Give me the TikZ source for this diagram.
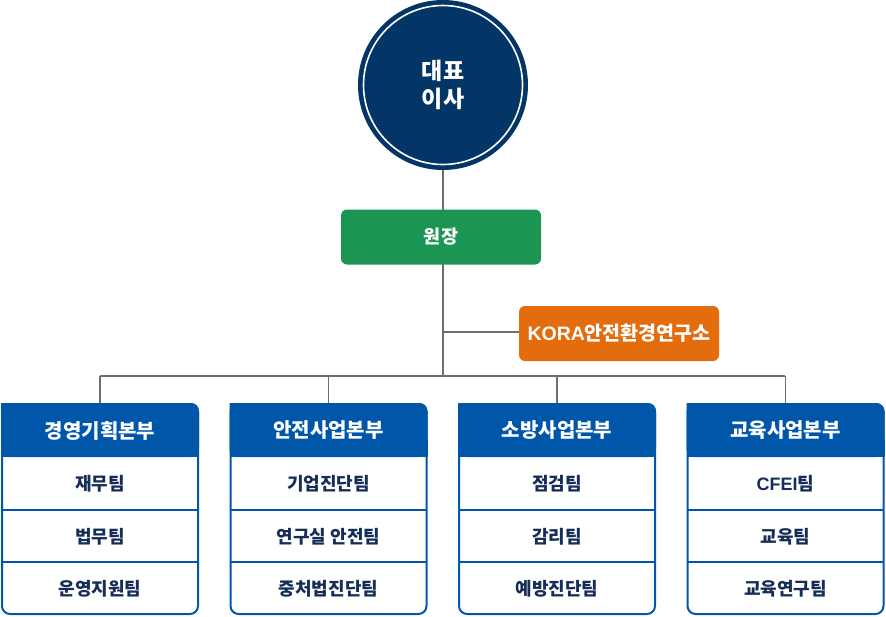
\documentclass[tikz,border=0pt]{standalone}
\usepackage{fontspec}
\newfontfamily\kr{Noto Sans CJK KR}
\newfontfamily\lat{Liberation Sans}
\definecolor{navy}{RGB}{3,53,103}
\definecolor{cgreen}{RGB}{27,150,82}
\definecolor{corange}{RGB}{227,108,12}
\definecolor{cblue}{RGB}{0,87,170}
\definecolor{ctext}{RGB}{22,45,88}
\definecolor{cline}{RGB}{110,110,110}
\tikzset{
  conn/.style={draw=cline, line width=1.1pt},
  topbox/.style={rounded corners=6pt, minimum width=200pt, minimum height=55pt, text=white, inner sep=0pt},
  hdr/.style={text=white, font=\kr\bfseries\fontsize{20}{23}\selectfont, inner sep=0pt},
  row/.style={text=ctext, font=\kr\bfseries\fontsize{18}{21}\selectfont, inner sep=0pt}
}
\begin{document}
\begin{tikzpicture}[x=1pt,y=-1pt]
\useasboundingbox (0,0) rectangle (886,616);
% CEO circle
\node[circle, fill=navy, minimum size=170pt, inner sep=0pt] (ceo) at (443,85) {};
\draw[white, line width=1.6pt] (ceo.center) circle (79.5pt);
\node[text=white, font=\kr\bfseries\fontsize{23}{28}\selectfont, align=center] at (ceo.center) {대표\\이사};
% director
\node[topbox, fill=cgreen, font=\kr\bfseries\fontsize{18.5}{21}\selectfont] (dir) at (441,237) {원장};
\node[topbox, fill=corange, font=\kr\bfseries\fontsize{19.5}{22}\selectfont] (kora) at (619,333.5) {{\lat\bfseries KORA}안전환경연구소};
\coordinate (j1) at (443,332);
\coordinate (j2) at (443,376);
\draw[conn] (ceo.south) -- (443,210);
\draw[conn] (443,264) -- (j2);
\draw[conn] (j1) -- (kora.west |- j1);
\draw[conn] (100,376) -- (785,376);
% columns
\foreach \cx/\h/\a/\b/\c [count=\i] in {
  100/경영기획본부/재무팀/법무팀/운영지원팀,
  328.5/안전사업본부/기업진단팀/연구실 안전팀/중처법진단팀,
  557/소방사업본부/점검팀/감리팀/예방진단팀,
  785.5/교육사업본부/{{\lat\bfseries CFEI}팀}/교육팀/교육연구팀}{
  \coordinate (top\i) at (\cx,403);
  \draw[conn] (\cx,376) -- (top\i);
  \fill[cblue, rounded corners=8pt] (\cx-99,403) -- (\cx+99,403) -- (\cx+99,457) -- (\cx-99,457) [sharp corners] -- cycle;
  \fill[cblue] (\cx-99,440) rectangle (\cx+99,457);
  \draw[cblue, line width=2pt, rounded corners=8pt] (\cx-98,404) rectangle (\cx+98,614);
  \draw[cblue, line width=2pt] (\cx-98,509.5) -- (\cx+98,509.5);
  \draw[cblue, line width=2pt] (\cx-98,562) -- (\cx+98,562);
  \node[hdr] (h\i) at (\cx,430.5) {\h};
  \node[row] (r\i a) at (\cx,484) {\a};
  \node[row] (r\i b) at (\cx,536.5) {\b};
  \node[row] (r\i c) at (\cx,589) {\c};
}
\end{tikzpicture}
\end{document}
